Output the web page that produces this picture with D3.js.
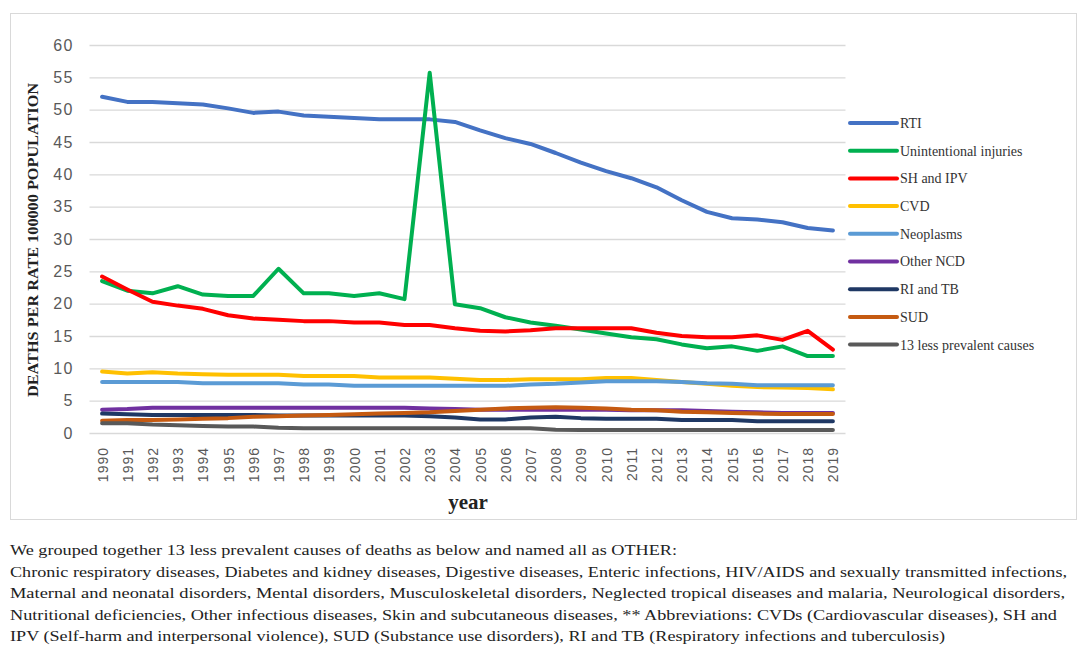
<!DOCTYPE html>
<html>
<head>
<meta charset="utf-8">
<script src="https://cdn.jsdelivr.net/npm/d3@7"></script>
<style>
  body { margin: 0; background: #fff; }
  svg { display: block; }
  .serif { font-family: 'Liberation Serif', 'Times New Roman', Times, serif; }
  .sans { font-family: 'Liberation Sans', Arial, sans-serif; }
</style>
</head>
<body>
<svg id="chart" width="1083" height="656"></svg>
<script>
// data
const years = d3.range(1990, 2020).map(String);

const rti = [52.0, 51.2, 51.2, 51.0, 50.8, 50.2, 49.5, 49.7, 49.1, 48.9, 48.7, 48.5, 48.5, 48.5, 48.1,
  46.8, 45.6, 44.7, 43.3, 41.8, 40.5, 39.4, 38.0, 36.0, 34.2, 33.2, 33.0, 32.6, 31.7, 31.3];
const unintentional = [23.5, 22.0, 21.6, 22.7, 21.4, 21.2, 21.2, 25.4, 21.6, 21.6, 21.2, 21.6, 20.7, 55.7, 19.9,
  19.3, 17.9, 17.1, 16.6, 16.0, 15.4, 14.8, 14.5, 13.7, 13.1, 13.4, 12.7, 13.4, 11.9, 11.9];
const shIpv = [24.2, 22.2, 20.3, 19.7, 19.2, 18.2, 17.7, 17.5, 17.3, 17.3, 17.1, 17.1, 16.7, 16.7, 16.2,
  15.8, 15.7, 15.9, 16.2, 16.2, 16.2, 16.2, 15.5, 15.0, 14.8, 14.8, 15.1, 14.4, 15.8, 12.9];
const cvd = [9.5, 9.2, 9.4, 9.2, 9.1, 9.0, 9.0, 9.0, 8.8, 8.8, 8.8, 8.6, 8.6, 8.6, 8.4,
  8.2, 8.2, 8.3, 8.3, 8.3, 8.5, 8.5, 8.2, 7.9, 7.6, 7.3, 7.1, 7.05, 6.95, 6.75];
const neoplasms = [7.9, 7.9, 7.9, 7.9, 7.7, 7.7, 7.7, 7.7, 7.5, 7.5, 7.3, 7.3, 7.3, 7.3, 7.3,
  7.3, 7.3, 7.5, 7.6, 7.8, 8.0, 8.0, 8.0, 7.9, 7.7, 7.6, 7.4, 7.4, 7.4, 7.4];
const otherNcd = [3.6, 3.7, 3.9, 3.9, 3.9, 3.9, 3.9, 3.9, 3.9, 3.9, 3.9, 3.9, 3.9, 3.8, 3.7,
  3.6, 3.6, 3.6, 3.6, 3.6, 3.6, 3.5, 3.5, 3.5, 3.4, 3.3, 3.2, 3.1, 3.1, 3.1];
const riTb = [3.0, 2.9, 2.8, 2.8, 2.8, 2.8, 2.8, 2.7, 2.7, 2.7, 2.7, 2.7, 2.7, 2.6, 2.4,
  2.1, 2.1, 2.4, 2.5, 2.3, 2.2, 2.2, 2.2, 2.0, 2.0, 2.0, 1.8, 1.8, 1.8, 1.8];
const sud = [1.9, 2.0, 2.0, 2.1, 2.2, 2.3, 2.5, 2.6, 2.7, 2.8, 2.9, 3.0, 3.1, 3.2, 3.4,
  3.6, 3.8, 3.9, 4.0, 3.9, 3.8, 3.6, 3.5, 3.3, 3.2, 3.1, 3.0, 2.95, 2.95, 2.95];
const lessPrevalent = [1.5, 1.5, 1.3, 1.2, 1.1, 1.0, 1.0, 0.8, 0.75, 0.75, 0.75, 0.75, 0.75, 0.75, 0.75,
  0.75, 0.75, 0.75, 0.5, 0.45, 0.45, 0.45, 0.45, 0.45, 0.45, 0.45, 0.45, 0.45, 0.45, 0.45];

const seriesNames = ['RTI', 'Unintentional injuries', 'SH and IPV', 'CVD', 'Neoplasms',
  'Other NCD', 'RI and TB', 'SUD', '13 less prevalent causes'];
const seriesValues = [rti, unintentional, shIpv, cvd, neoplasms, otherNcd, riTb, sud, lessPrevalent];
const seriesColors = ['#4472C4', '#00B050', '#FF0000', '#FFC000', '#5B9BD5',
  '#7030A0', '#1F3864', '#C55A11', '#595959'];
const yTicks = d3.range(0, 61, 5);

const captionLines = [
  'We grouped together 13 less prevalent causes of deaths as below and named all as OTHER:',
  'Chronic respiratory diseases, Diabetes and kidney diseases, Digestive diseases, Enteric infections, HIV/AIDS and sexually transmitted infections,',
  'Maternal and neonatal disorders, Mental disorders, Musculoskeletal disorders, Neglected tropical diseases and malaria, Neurological disorders,',
  'Nutritional deficiencies, Other infectious diseases, Skin and subcutaneous diseases, ** Abbreviations: CVDs (Cardiovascular diseases), SH and',
  'IPV (Self-harm and interpersonal violence), SUD (Substance use disorders), RI and TB (Respiratory infections and tuberculosis)'
];
const captionWidths = [667, 1057, 1055, 1047, 935];

const svg = d3.select('#chart');

// chart frame
svg.append('rect')
  .attr('x', 10.5).attr('y', 13.5)
  .attr('width', 1066).attr('height', 506)
  .attr('fill', '#fff')
  .attr('stroke', '#d9d9d9');

const plot = { left: 89.5, right: 845.5, top: 45, bottom: 433 };

const x = d3.scalePoint()
  .domain(years)
  .range([plot.left, plot.right])
  .padding(0.5);

const y = d3.scaleLinear()
  .domain([0, 60])
  .range([plot.bottom, plot.top]);

// gridlines + y axis labels
const yAxis = d3.axisLeft(y)
  .tickValues(yTicks)
  .tickSize(-(plot.right - plot.left))
  .tickPadding(17);

const yAxisG = svg.append('g')
  .attr('transform', `translate(${plot.left},0)`)
  .call(yAxis);
yAxisG.select('.domain').remove();
yAxisG.selectAll('.tick line').attr('stroke', '#d9d9d9').attr('stroke-width', 1.3);
yAxisG.selectAll('.tick text')
  .attr('class', 'sans')
  .attr('font-family', null)
  .attr('fill', '#595959')
  .attr('font-size', 16)
  .attr('letter-spacing', 1.5)
  .attr('dx', 1.5);
yAxisG.attr('font-family', null);

// x axis (year labels, rotated)
const xAxis = d3.axisBottom(x).tickSize(0).tickPadding(0);
const xAxisG = svg.append('g')
  .attr('transform', `translate(0,${plot.bottom})`)
  .call(xAxis);
xAxisG.attr('font-family', null);
xAxisG.select('.domain').remove();
xAxisG.selectAll('.tick text')
  .attr('class', 'sans')
  .attr('fill', '#595959')
  .attr('font-size', 14)
  .attr('letter-spacing', 1)
  .attr('text-anchor', 'end')
  .attr('transform', 'rotate(-90)')
  .attr('x', -14)
  .attr('y', 0)
  .attr('dy', '0.35em');

// lines
const line = d3.line()
  .x((d, i) => x(years[i]))
  .y(d => y(d));

svg.append('g')
  .selectAll('path')
  .data(seriesValues)
  .join('path')
  .attr('d', d => line(d))
  .attr('fill', 'none')
  .attr('stroke', (d, i) => seriesColors[i])
  .attr('stroke-width', 4)
  .attr('stroke-linejoin', 'round')
  .attr('stroke-linecap', 'round');

// axis titles
svg.append('text')
  .attr('class', 'serif')
  .attr('transform', 'translate(38,240) rotate(-90)')
  .attr('text-anchor', 'middle')
  .attr('font-weight', 'bold')
  .attr('font-size', 14)
  .attr('fill', '#222')
  .attr('textLength', 314)
  .attr('lengthAdjust', 'spacingAndGlyphs')
  .text('DEATHS  PER RATE 100000 POPULATION');

svg.append('text')
  .attr('class', 'serif')
  .attr('x', 468).attr('y', 509)
  .attr('text-anchor', 'middle')
  .attr('font-weight', 'bold')
  .attr('font-size', 21)
  .attr('fill', '#222')
  .text('year');

// legend
const legend = svg.append('g')
  .selectAll('g')
  .data(seriesNames)
  .join('g')
  .attr('transform', (d, i) => `translate(850,${123 + i * 27.7})`);

legend.append('line')
  .attr('x1', 0).attr('x2', 47)
  .attr('stroke', (d, i) => seriesColors[i])
  .attr('stroke-width', 4)
  .attr('stroke-linecap', 'round');

legend.append('text')
  .attr('class', 'serif')
  .attr('x', 50)
  .attr('dy', '0.35em')
  .attr('font-size', 14)
  .attr('fill', '#333')
  .text(d => d);

// caption
svg.append('g')
  .selectAll('text')
  .data(captionLines)
  .join('text')
  .attr('class', 'serif')
  .attr('x', 10)
  .attr('y', (d, i) => 555 + i * 21.5)
  .attr('font-size', 15)
  .attr('fill', '#222')
  .attr('textLength', (d, i) => captionWidths[i])
  .attr('lengthAdjust', 'spacingAndGlyphs')
  .text(d => d);
</script>
</body>
</html>
